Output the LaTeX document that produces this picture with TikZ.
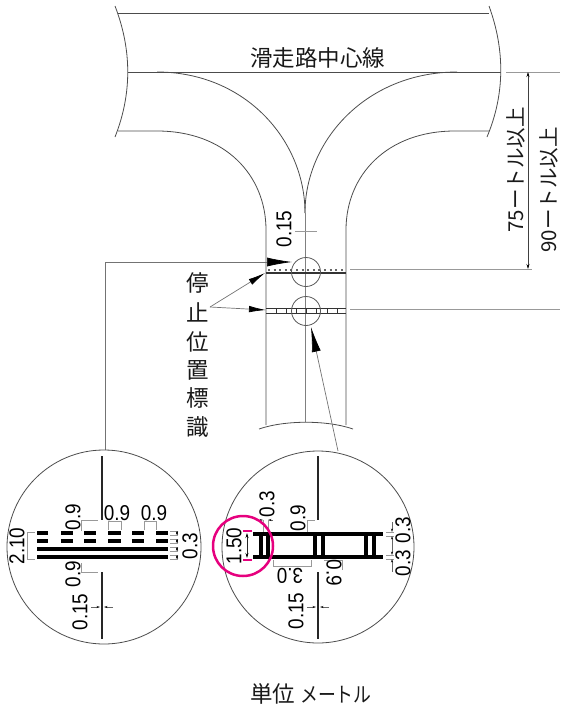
\documentclass[tikz,border=0pt]{standalone}
\usepackage{fontspec}
\setmainfont{Liberation Sans}
\newfontfamily\cjk{Noto Sans CJK JP}
\newfontfamily\cjknarrow[FakeStretch=0.85]{Noto Sans CJK JP}
\newfontfamily\numfont[FakeStretch=0.88]{Liberation Sans}
\usetikzlibrary{arrows.meta}
\definecolor{pinkring}{RGB}{230,0,126}
\tikzset{
  outline/.style={draw=black!70,line width=0.8pt},
  leader/.style={draw=black!55,line width=0.7pt},
  extline/.style={draw=black!40,line width=0.6pt},
  dimline/.style={draw=black!75,line width=0.6pt,{Stealth[length=5pt,width=3pt,black]}-{Stealth[length=5pt,width=3pt,black]}},
  tinytip/.style={draw=black!60,line width=0.5pt,-{Stealth[length=3.5pt,width=2pt,black]}},
  bigtip/.style={-{Latex[length=25pt,width=9pt,black]}},
  midtip/.style={-{Latex[length=17pt,width=6.5pt,black]}},
  bar/.style={draw=black,line width=4pt},
  stem/.style={draw=black!85,line width=2.4pt},
  num/.style={font=\numfont\fontsize{21.5}{21.5}\selectfont,inner sep=0pt,text=black},
  jp/.style={font=\cjk\fontsize{22.5}{22.5}\selectfont,inner sep=0pt,text=black!90},
  jpsmall/.style={font=\cjk\fontsize{20.5}{20.5}\selectfont,inner sep=0pt,text=black!90},
}
\begin{document}
\begin{tikzpicture}[x=1pt,y=-1pt]
\useasboundingbox (0,0) rectangle (560,707);
% runway
\draw[outline] (118,13) -- (489,13);
\draw[outline] (128,72) -- (501,72);
\draw[outline] (115,6) .. controls (132,50) and (132,94) .. (115,137);
\draw[outline] (489,6) .. controls (505,50) and (505,94) .. (487,137);
\node[jp] (runwaylabel) at (317.5,58) {滑走路中心線};
% taxiway
\draw[outline] (157,72) .. controls (245,72) and (305,140) .. (305,213);
\draw[outline] (457,72) .. controls (367,72) and (305,140) .. (305,213);
\draw[outline] (118,131) -- (157,131) .. controls (225,131) and (266,175) .. (266,230) -- (266,425);
\draw[outline] (489,131) -- (455,131) .. controls (387,131) and (346,175) .. (346,230) -- (346,425);
\draw[draw=black!50,line width=1.2pt] (305.5,213) -- (305.5,422);
\draw[outline] (259,429) .. controls (285,420) and (327,420) .. (353,429);
% 0.15 on taxiway
\node[num,rotate=90] (topfifteen) at (284,229) {0.15};
\draw[extline] (295,231) -- (317,231);
% stop markers
\draw[draw=black!80,line width=1.5pt] (266,273) -- (346,273);
\draw[draw=black!60,line width=1.8pt,dash pattern=on 2pt off 3.6pt] (268,270) -- (346,270);
\draw[draw=black!80,line width=1pt] (266,308) -- (346,308) (266,313) -- (346,313);
\foreach \x in {276,286,296,306,316,327,337} \draw[draw=black!80,line width=1pt] (\x,308) -- (\x,313);
\draw[draw=black!65,line width=0.8pt] (306,272) circle[radius=14.5];
\draw[draw=black!65,line width=0.8pt] (306,311) circle[radius=14.5];
% leader lines
\node[jp,anchor=center] (c1) at (198,283) {停};
\node[jp] (c2) at (198,312) {止};
\node[jp] (c3) at (198,342) {位};
\node[jp] (c4) at (198,370) {置};
\node[jp] (c5) at (198,398) {標};
\node[jp] (c6) at (198,427) {識};
\coordinate (fork) at (210,307);
\coordinate (tipa) at (265,273);
\coordinate (tipb) at (266,310);
\draw[leader,midtip] (fork) -- (tipa);
\draw[leader,midtip] (fork) -- (tipb);
\coordinate (leadstart) at (105,450);
\coordinate (leadcorner) at (105,262);
\coordinate (leadtip) at (292,262);
\draw[leader,bigtip] (leadstart) -- (leadcorner) -- (leadtip);
\coordinate (leadb) at (338,451);
\coordinate (leadbtip) at (311,327);
\draw[leader,bigtip] (leadb) -- (leadbtip);
% right dimensions
\draw[extline] (350,269) -- (532,269);
\draw[extline] (350,309) -- (560,309);
\draw[extline] (506,72) -- (560,72);
\draw[dimline] (528,72) -- (528,269);
\node[jpsmall,rotate=90] (dimA) at (516,170) {75ートル以上};
\node[jpsmall,rotate=90] (dimB) at (549,190) {90ートル以上};
% left detail
\draw[outline] (104,547) circle[radius=97];
\draw[stem] (102,456) -- (102,520) (102,572) -- (102,639);
\foreach \a/\b in {37/48,61/73,84/96,108/121,132/144,156/168}{
  \draw[bar] (\a,533) -- (\b,533);
  \draw[bar] (\a,541) -- (\b,541);
}
\draw[bar] (37,549) -- (168,549);
\draw[bar] (37,557) -- (168,557);
\draw[extline] (35,532) -- (27,532) -- (27,559) -- (35,559);
\draw[extline] (81,531) -- (81,520) -- (98,520);
\draw[extline] (81,563) -- (81,572) -- (98,572);
\draw[extline] (108,530) -- (108,521) -- (121,521) -- (121,530);
\draw[extline] (144,530) -- (144,521) -- (156,521) -- (156,530);
\foreach \y in {531,535,539,543,547,551,555,559} \draw[extline] (170,\y) -- (178,\y);
\foreach \y in {535,543,551,559} \draw[tinytip] (177,\y-4) -- (177,\y);
\foreach \y in {531,539,547,555} \draw[tinytip] (177,\y+4) -- (177,\y);
\draw[tinytip] (91,607) -- (100,607);
\draw[tinytip] (113,607) -- (104,607);
\node[num,rotate=90] (l210) at (17,546) {2.10};
\node[num,rotate=90] (l09a) at (73,517) {0.9};
\node[num] (l09b) at (117,513) {0.9};
\node[num] (l09c) at (154,513) {0.9};
\node[num,rotate=90] (l03) at (190,546) {0.3};
\node[num,rotate=90] (l09d) at (73,574) {0.9};
\node[num,rotate=90] (l015) at (80,612) {0.15};
% right detail
\draw[outline] (318,547) circle[radius=96];
\draw[stem] (318,456) -- (318,520) (318,572) -- (318,639);
\draw[bar] (253,534) -- (383,534);
\draw[bar] (253,557) -- (383,557);
\foreach \x in {261,268,315,323,366,374} \draw[draw=black,line width=3.4pt] (\x,534) -- (\x,557);
\draw[tinytip] (258,520) -- (263,520);
\draw[tinytip] (273,520) -- (268,520);
\draw[extline] (263,520) -- (263,532) (268,520) -- (268,532);
\draw[extline] (307,532) -- (307,520) -- (315,520);
\draw[extline] (273,560) -- (273,566) -- (311,566) -- (311,560);
\draw[extline] (324,560) -- (342,560) -- (342,570);
\foreach \y in {532,536,555,559} \draw[extline] (386,\y) -- (394,\y);
\draw[tinytip] (392,522) -- (392,532);
\draw[tinytip] (392,546) -- (392,536);
\draw[tinytip] (392,546) -- (392,555);
\draw[tinytip] (392,572) -- (392,559);
\draw[tinytip] (307,607) -- (316,607);
\draw[tinytip] (329,607) -- (320,607);
\node[num,rotate=90] (r03a) at (267,504) {0.3};
\node[num,rotate=90] (r09a) at (298,518) {0.9};
\node[num,rotate=90] (r150) at (234,546) {1.50};
\node[num,rotate=180] (r30) at (290,576) {3.0};
\node[num,rotate=270] (r09b) at (334,573) {0.9};
\node[num,rotate=90] (r015) at (296,611) {0.15};
\node[num,rotate=90] (r03b) at (403,530) {0.3};
\node[num,rotate=90] (r03c) at (403,563) {0.3};
% highlight
\draw[draw=pinkring,line width=2.5pt] (243,546) circle[radius=30];
\draw[draw=pinkring,line width=1.4pt] (243,531) -- (252,531) (243,560) -- (252,560);
\draw[draw=black!85,line width=0.7pt,{Stealth[length=5pt,width=3pt,black]}-{Stealth[length=5pt,width=3pt,black]}] (247,533) -- (247,558);
% unit
\node[jp,anchor=west] (unit) at (250,694) {単位 {\cjknarrow\fontsize{21}{21}\selectfont メートル}};
\end{tikzpicture}
\end{document}
